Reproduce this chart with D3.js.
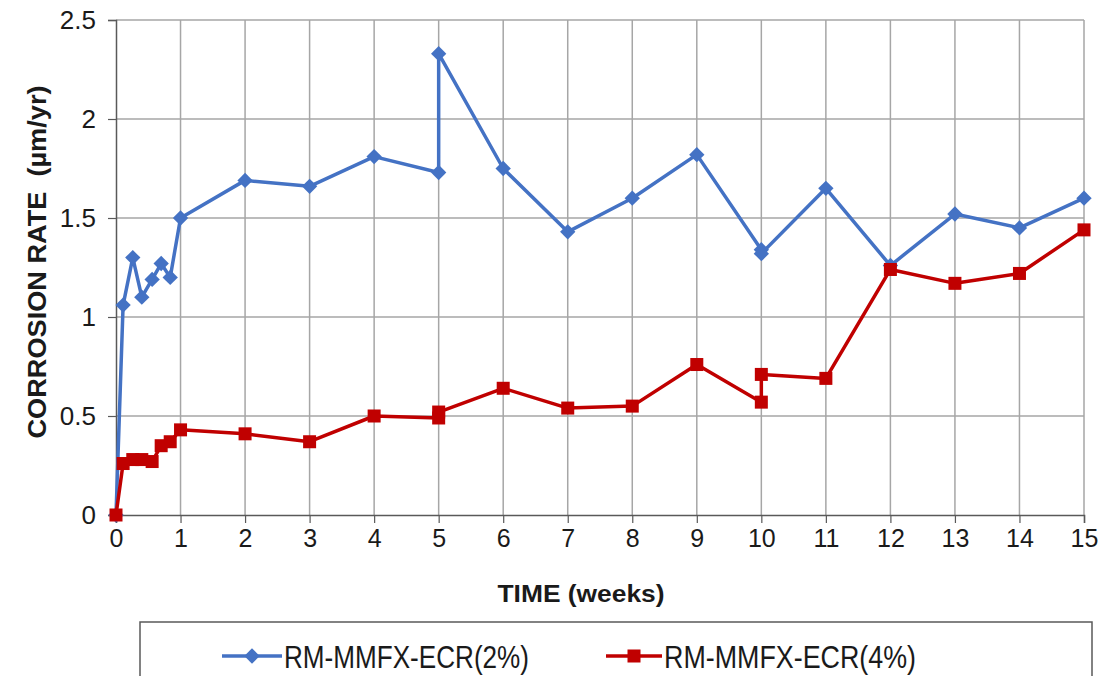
<!DOCTYPE html>
<html>
<head>
<meta charset="utf-8">
<script src="https://cdn.jsdelivr.net/npm/d3@7/dist/d3.min.js"></script>
<style>
  html, body { margin: 0; padding: 0; background: #fff; }
  svg { display: block; }
  text { font-family: "Liberation Sans", Arial, sans-serif; fill: #1a1a1a; }
</style>
</head>
<body>
<svg id="chart" width="1102" height="676"></svg>
<script>
// ---- data ----
const weeks = [0, 0.11, 0.26, 0.40, 0.56, 0.70, 0.84, 1, 2, 3, 4, 5, 5, 6, 7, 8, 9, 10, 10, 11, 12, 13, 14, 15];
const ecr2 = [0, 1.06, 1.30, 1.10, 1.19, 1.27, 1.20, 1.50, 1.69, 1.66, 1.81, 1.73, 2.33, 1.75, 1.43, 1.60, 1.82, 1.34, 1.32, 1.65, 1.26, 1.52, 1.45, 1.60];
const ecr4 = [0, 0.26, 0.28, 0.28, 0.27, 0.35, 0.37, 0.43, 0.41, 0.37, 0.50, 0.49, 0.52, 0.64, 0.54, 0.55, 0.76, 0.57, 0.71, 0.69, 1.24, 1.17, 1.22, 1.44];
const seriesNames = ["RM-MMFX-ECR(2%)", "RM-MMFX-ECR(4%)"];
const xTicks = d3.range(0, 16, 1);
const yTicks = [0, 0.5, 1, 1.5, 2, 2.5];
const xTitle = "TIME (weeks)";
const yTitle = "CORROSION RATE  (\u00b5m/yr)";

(function () {
// ---- layout ----
const svg = d3.select("#chart");
const pL = 116, pR = 1084, pT = 20, pB = 515;
const x = d3.scaleLinear().domain([0, 15]).range([pL, pR]);
const y = d3.scaleLinear().domain([0, 2.5]).range([pB, pT]);

const gridColor = "#a6a6a6";
const axisColor = "#595959";
const blue = "#4472c4";
const red = "#c00000";

// gridlines
svg.append("g").selectAll("line").data(xTicks.filter(d => d > 0)).join("line")
  .attr("x1", d => x(d)).attr("x2", d => x(d))
  .attr("y1", pT).attr("y2", pB)
  .attr("stroke", gridColor).attr("stroke-width", 1.5);
svg.append("g").selectAll("line").data(yTicks.filter(d => d > 0)).join("line")
  .attr("x1", pL).attr("x2", pR)
  .attr("y1", d => y(d)).attr("y2", d => y(d))
  .attr("stroke", gridColor).attr("stroke-width", 1.5);

// axes
const xAxis = d3.axisBottom(x).tickValues(xTicks).tickSize(8).tickPadding(6).tickFormat(d3.format("d"));
const gx = svg.append("g").attr("transform", `translate(0,${pB})`).call(xAxis);
gx.select(".domain").attr("stroke", axisColor).attr("stroke-width", 1.5);
gx.selectAll(".tick line").attr("stroke", axisColor).attr("stroke-width", 1.2);
gx.selectAll(".tick text").attr("font-size", 25).attr("fill", "#1a1a1a")
  .attr("font-family", '"Liberation Sans", Arial, sans-serif');

const yAxis = d3.axisLeft(y).tickValues(yTicks).tickSize(8).tickPadding(12).tickFormat(d => String(d));
const gy = svg.append("g").attr("transform", `translate(${pL},0)`).call(yAxis);
gy.select(".domain").attr("stroke", axisColor).attr("stroke-width", 1.5);
gy.selectAll(".tick line").attr("stroke", axisColor).attr("stroke-width", 1.2);
gy.selectAll(".tick text").attr("font-size", 26).attr("fill", "#1a1a1a")
  .attr("font-family", '"Liberation Sans", Arial, sans-serif');

// titles
svg.append("text").attr("x", 581).attr("y", 602).attr("text-anchor", "middle")
  .attr("font-size", 24).attr("font-weight", "bold")
  .attr("textLength", 167).attr("lengthAdjust", "spacingAndGlyphs")
  .text(xTitle);
svg.append("text").attr("transform", "translate(46,262) rotate(-90)").attr("text-anchor", "middle")
  .attr("font-size", 25).attr("font-weight", "bold")
  .attr("xml:space", "preserve").style("white-space", "pre")
  .attr("textLength", 353).attr("lengthAdjust", "spacingAndGlyphs")
  .text(yTitle);

// series
const line = d3.line().x(d => x(d[0])).y(d => y(d[1]));
const data2 = weeks.map((w, i) => [w, ecr2[i]]);
const data4 = weeks.map((w, i) => [w, ecr4[i]]);

svg.append("path").datum(data2).attr("d", line)
  .attr("fill", "none").attr("stroke", blue).attr("stroke-width", 3.5).attr("stroke-linejoin", "round");
const diamond = d3.symbol().type(d3.symbolDiamond2).size(150);
svg.append("g").selectAll("path").data(data2).join("path")
  .attr("d", diamond)
  .attr("transform", d => `translate(${x(d[0])},${y(d[1])})`)
  .attr("fill", blue);

svg.append("path").datum(data4).attr("d", line)
  .attr("fill", "none").attr("stroke", red).attr("stroke-width", 3.5).attr("stroke-linejoin", "round");
svg.append("g").selectAll("rect").data(data4).join("rect")
  .attr("x", d => x(d[0]) - 6.5).attr("y", d => y(d[1]) - 6.5)
  .attr("width", 13).attr("height", 13)
  .attr("fill", red);

// legend
svg.append("rect").attr("x", 140).attr("y", 622).attr("width", 952).attr("height", 70)
  .attr("fill", "none").attr("stroke", "#595959").attr("stroke-width", 1.5);
const leg = [
  { name: seriesNames[0], color: blue, x0: 222, x1: 282, tx: 284, tl: 245, shape: "d" },
  { name: seriesNames[1], color: red, x0: 606, x1: 662, tx: 664, tl: 252, shape: "s" }
];
const ly = 656;
leg.forEach(l => {
  svg.append("line").attr("x1", l.x0).attr("x2", l.x1).attr("y1", ly).attr("y2", ly)
    .attr("stroke", l.color).attr("stroke-width", 3.5);
  const cx = (l.x0 + l.x1) / 2;
  if (l.shape === "d") {
    svg.append("path").attr("d", diamond).attr("transform", `translate(${cx},${ly})`).attr("fill", l.color);
  } else {
    svg.append("rect").attr("x", cx - 6.5).attr("y", ly - 6.5).attr("width", 13).attr("height", 13).attr("fill", l.color);
  }
  svg.append("text").attr("x", l.tx).attr("y", ly + 12)
    .attr("font-size", 32)
    .attr("textLength", l.tl).attr("lengthAdjust", "spacingAndGlyphs")
    .text(l.name);
});
})();
</script>
</body>
</html>
